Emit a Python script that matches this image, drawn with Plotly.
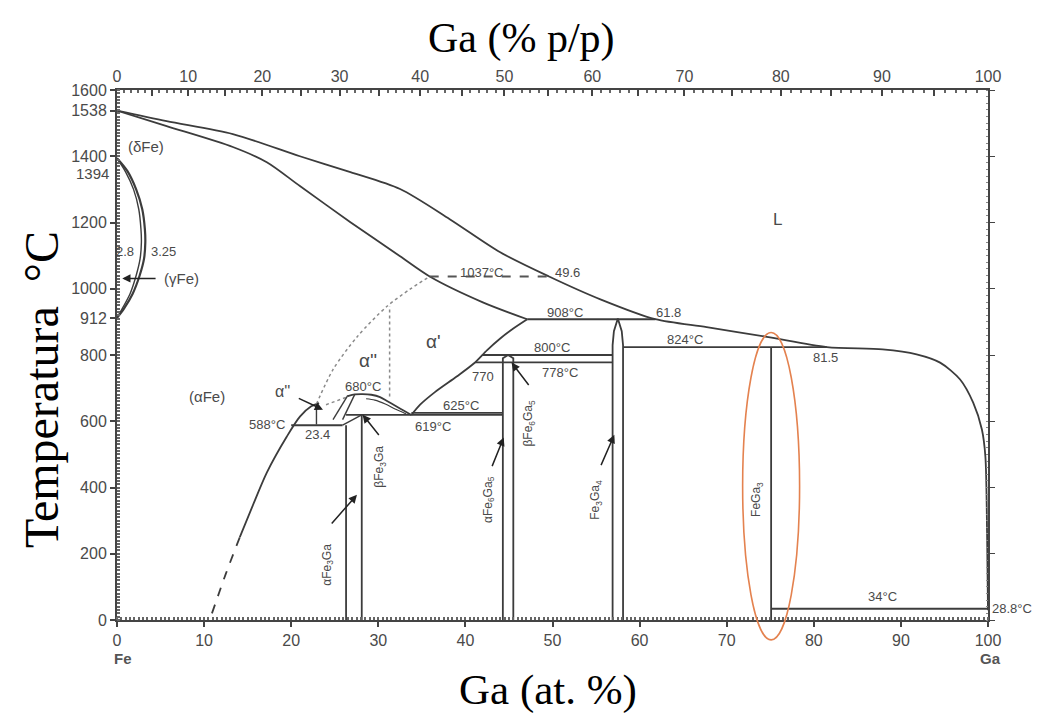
import plotly.graph_objects as go

# ---------------- data (Ga at.% , T in °C) ----------------
liq_x = [0, 5.7, 13.3, 21.0, 26.8, 32.5, 38.2, 44.0, 49.6, 55.5, 61.8, 67.7, 74.6, 81.5, 87.9, 91.8, 94.5, 96.8, 98.3, 99.3, 99.7, 99.9, 100]
liq_T = [1538, 1506, 1467, 1400, 1352, 1301, 1210, 1110, 1037, 968, 908, 884, 855, 824, 817, 802, 777, 726, 656, 575, 493, 250, 29.8]

sol_x = [0, 5.7, 13.3, 17.2, 21.0, 26.8, 32.5, 35.9, 42.0, 47.1]
sol_T = [1538, 1491, 1428, 1382, 1310, 1201, 1098, 1037, 959, 908]

ap_x = [47.1, 45.5, 44.0, 42.5, 41.0, 39.0, 36.5, 34.8, 33.8]
ap_T = [908, 880, 850, 815, 775, 735, 688, 650, 619]

gam_out_x = [0, 1.2, 2.2, 2.9, 3.2, 3.25, 3.1, 2.6, 1.8, 0.8, 0]
gam_out_T = [1394, 1355, 1300, 1240, 1180, 1140, 1090, 1040, 985, 940, 912]
gam_in_x = [0, 1.0, 1.9, 2.5, 2.75, 2.8, 2.65, 2.2, 1.5, 0.6, 0]
gam_in_T = [1394, 1352, 1300, 1240, 1180, 1140, 1090, 1040, 985, 940, 912]

afe_dash_x = [10.9, 12.5, 14.1]
afe_dash_T = [20, 140, 250]
afe_x = [14.1, 15.5, 17.2, 19.5, 21.0, 22.3, 23.2]
afe_T = [250, 340, 445, 554, 614, 645, 655]

ord_x = [22.9, 24.8, 27.6, 31.0, 33.6, 35.9]
ord_T = [652, 756, 856, 947, 998, 1037]
ord2_x = [24.0, 26.3]
ord2_T = [650, 672]
vdot_x = [31.3, 31.3]
vdot_T = [675, 947]

dome_x = [26.5, 27.3, 28.2, 29.2, 30.2, 31.0, 32.0, 33.0, 33.8]
dome_T = [676, 681, 682, 680, 673, 661, 646, 631, 619]
dome2_x = [28.6, 29.6, 30.8, 32.0, 33.2]
dome2_T = [668, 664, 652, 636, 622]
par1_x = [24.8, 26.5]
par1_T = [605, 678]
par2_x = [25.9, 27.3]
par2_T = [605, 681]
a2_x = [22.9, 22.9]
a2_T = [590, 652]
step_x = [25.9, 28.1]
step_T = [588, 619]

# isotherms
iso_T = [1037, 908, 824, 800, 778, 625, 619, 588, 34]
iso_x0 = [35.9, 47.1, 58.1, 41.9, 41.1, 33.8, 26.3, 20.0, 75.1]
iso_x1 = [49.6, 61.8, 81.5, 56.9, 56.9, 44.3, 44.3, 25.9, 100]
iso_dash = ['dash', 'solid', 'solid', 'solid', 'solid', 'solid', 'solid', 'solid', 'solid']

# compounds
fe3ga_a_x = [26.3, 26.3]
fe3ga_a_T = [0, 588]
fe3ga_b_x = [28.1, 28.1]
fe3ga_b_T = [0, 619]
fe6ga5_x = [44.3, 44.3, 44.9, 45.5, 45.5]
fe6ga5_T = [0, 790, 800, 790, 0]
fe3ga4_x = [56.9, 56.9, 57.05, 57.5, 57.95, 58.1, 58.1]
fe3ga4_T = [0, 830, 872, 910, 872, 830, 0]
fega3_x = [75.1, 75.1]
fega3_T = [0, 824]

# highlight ellipse around FeGa3 (centre x, half-width, centre T, half-height)
ell_x, ell_rx, ell_T, ell_rT = 75.1, 3.27, 404, 464

# labels: text, x, T, size, angle
labels = [
    ("(δFe)", 3.3, 1428, 15, 0),
    ("2.8", 0.9, 1113, 13, 0),
    ("3.25", 5.3, 1113, 13, 0),
    ("(γFe)", 7.4, 1031, 15, 0),
    ("(αFe)", 10.3, 675, 15, 0),
    ("α''", 19.0, 690, 16, 0),
    ("680°C", 28.2, 706, 13, 0),
    ("α''", 28.8, 782, 19, 0),
    ("α'", 36.3, 842, 19, 0),
    ("588°C", 17.2, 590, 13, 0),
    ("23.4", 23.0, 560, 13, 0),
    ("619°C", 36.3, 584, 13, 0),
    ("625°C", 39.5, 648, 13, 0),
    ("770", 42.0, 735, 13, 0),
    ("800°C", 49.9, 822, 13, 0),
    ("778°C", 50.9, 747, 13, 0),
    ("908°C", 51.4, 929, 13, 0),
    ("61.8", 63.3, 929, 13, 0),
    ("824°C", 65.2, 847, 13, 0),
    ("81.5", 81.3, 792, 13, 0),
    ("1037°C", 41.9, 1050, 13, 0),
    ("49.6", 51.7, 1050, 13, 0),
    ("L", 75.8, 1210, 17, 0),
    ("34°C", 87.9, 70, 13, 0),
    ("αFe<sub>3</sub>Ga", 24.2, 166, 12, -90),
    ("βFe<sub>3</sub>Ga", 30.2, 463, 12, -90),
    ("αFe<sub>6</sub>Ga<sub>5</sub>", 42.7, 365, 12, -90),
    ("βFe<sub>6</sub>Ga<sub>5</sub>", 47.3, 596, 12, -90),
    ("Fe<sub>3</sub>Ga<sub>4</sub>", 55.0, 363, 12, -90),
    ("FeGa<sub>3</sub>", 73.5, 363, 12, -90),
]

# arrows: tail (x, T) -> head (x, T)
arrows = [
    (4.6, 1031, 0.6, 1031),
    (20.7, 671, 23.65, 635),
    (24.5, 287, 27.55, 378),
    (30.2, 554, 28.2, 620),
    (43.0, 460, 44.4, 551),
    (47.4, 705, 45.3, 777),
    (55.5, 463, 57.1, 559),
]

# axes ticks
y_ticks = [0, 200, 400, 600, 800, 912, 1000, 1200, 1400, 1538, 1600]
x_ticks = [0, 10, 20, 30, 40, 50, 60, 70, 80, 90, 100]
wt_ticks = [0, 10, 20, 30, 40, 50, 60, 70, 80, 90, 100]

M_GA, M_FE = 69.723, 55.845
Y_MAX = 1600


def wt_to_at(w):
    if w >= 100:
        return 100.0
    a = w / M_GA
    b = (100 - w) / M_FE
    return 100 * a / (a + b)


LINE = "#3c3c3c"
DOT = "#8a8a8a"
TXT = "#4a4a4a"
fig = go.Figure()


def add_line(x, y, dash="solid", color=LINE, width=1.8, shape="linear"):
    fig.add_trace(go.Scatter(x=x, y=y, mode="lines", hoverinfo="skip", showlegend=False,
                             line=dict(color=color, width=width, dash=dash, shape=shape,
                                       smoothing=0.8 if shape == "spline" else None)))


add_line(liq_x, liq_T, shape="spline")
add_line(sol_x, sol_T, shape="spline")
add_line(ap_x, ap_T, shape="spline")
add_line(gam_out_x, gam_out_T, width=2.2, shape="spline")
add_line(gam_in_x, gam_in_T, width=1.4, shape="spline")
add_line(afe_dash_x, afe_dash_T, dash="dash", shape="spline")
add_line(afe_x, afe_T, shape="spline")
add_line(ord_x, ord_T, dash="dot", color=DOT, width=1.5, shape="spline")
add_line(ord2_x, ord2_T, dash="dot", color=DOT, width=1.5)
add_line(vdot_x, vdot_T, dash="dot", color=DOT, width=1.5)
add_line(dome_x, dome_T, shape="spline")
add_line(dome2_x, dome2_T, width=1.2, shape="spline")
add_line(par1_x, par1_T, width=1.4)
add_line(par2_x, par2_T, width=1.4)
add_line(a2_x, a2_T, width=1.4)
add_line(step_x, step_T, width=1.4)
for T, x0, x1, d in zip(iso_T, iso_x0, iso_x1, iso_dash):
    add_line([x0, x1], [T, T], dash=d, color=LINE if d == "solid" else "#555", width=1.8)
for xs, ts in [(fe3ga_a_x, fe3ga_a_T), (fe3ga_b_x, fe3ga_b_T), (fe6ga5_x, fe6ga5_T),
               (fe3ga4_x, fe3ga4_T), (fega3_x, fega3_T)]:
    add_line(xs, ts, width=1.8)

# top axis helper trace
fig.add_trace(go.Scatter(x=[0, 100], y=[0, 0], xaxis="x2", yaxis="y2", mode="markers",
                         marker=dict(opacity=0), hoverinfo="skip", showlegend=False))

ann = []
for t, x, T, s, ang in labels:
    ann.append(dict(x=x, y=T, xref="x", yref="y", text=t, showarrow=False, textangle=ang,
                    font=dict(family="Liberation Sans, Arial", size=s, color=TXT)))
for tx, tT, hx, hT in arrows:
    ann.append(dict(x=hx, y=hT, ax=tx, ay=tT, xref="x", yref="y", axref="x", ayref="y",
                    text="", showarrow=True, arrowhead=2, arrowsize=1.1, arrowwidth=1.5,
                    arrowcolor="#222"))
ann.append(dict(x=0, y=1394, xref="paper", yref="y", text="1394", showarrow=False,
                xanchor="right", xshift=-6, yshift=-15,
                font=dict(family="Liberation Sans, Arial", size=15, color=TXT)))
ann.append(dict(x=100, y=34, xref="x", yref="y", text="28.8°C", showarrow=False,
                xanchor="left", xshift=2,
                font=dict(family="Liberation Sans, Arial", size=13, color=TXT)))
ann.append(dict(x=0, y=-0.072, xref="x", yref="paper", text="<b>Fe</b>", showarrow=False,
                xshift=6, yanchor="middle",
                font=dict(family="Liberation Sans, Arial", size=15, color="#555")))
ann.append(dict(x=100, y=-0.072, xref="x", yref="paper", text="<b>Ga</b>", showarrow=False,
                xshift=2, yanchor="middle",
                font=dict(family="Liberation Sans, Arial", size=15, color="#555")))
ann.append(dict(x=0.464, y=1.098, xref="paper", yref="paper", text="Ga (% p/p)", showarrow=False,
                xanchor="center", yanchor="middle",
                font=dict(family="Liberation Serif, Times New Roman", size=42, color="#000")))
ann.append(dict(x=0.495, y=-0.132, xref="paper", yref="paper", text="Ga (at. %)", showarrow=False,
                xanchor="center", yanchor="middle",
                font=dict(family="Liberation Serif, Times New Roman", size=43, color="#000")))
ann.append(dict(x=-0.086, y=0.434, xref="paper", yref="paper", text="Temperatura\u00a0\u00a0°C",
                showarrow=False, textangle=-90, xanchor="center", yanchor="middle",
                font=dict(family="Liberation Serif, Times New Roman", size=48, color="#000")))

wt_major = [wt_to_at(w) for w in range(0, 101, 5)]
wt_major_txt = [str(w) if w % 10 == 0 else "" for w in range(0, 101, 5)]
wt_minor = [wt_to_at(w) for w in range(0, 101) if w % 5 != 0]

tickfont = dict(family="Liberation Sans, Arial", size=16, color=TXT)
fig.update_layout(
    width=1045, height=719, autosize=False,
    margin=dict(l=117, r=57, t=90, b=99),
    paper_bgcolor="white", plot_bgcolor="white",
    annotations=ann,
    xaxis=dict(range=[0, 100], tickvals=x_ticks, ticktext=[str(v) for v in x_ticks],
               showgrid=False, zeroline=False, showline=True, linecolor="#444", linewidth=2,
               ticks="outside", ticklen=5, tickcolor="#444", tickwidth=1.5, tickfont=tickfont,
               minor=dict(dtick=0.5, ticks="inside", ticklen=3, tickcolor="#666", showgrid=False)),
    xaxis2=dict(range=[0, 100], overlaying="x", side="top", tickmode="array",
                tickvals=wt_major, ticktext=wt_major_txt, showgrid=False, zeroline=False,
                showline=True, linecolor="#444", linewidth=2, ticks="inside", ticklen=6,
                tickcolor="#444", tickwidth=1.5, tickfont=tickfont,
                minor=dict(tickmode="array", tickvals=wt_minor, ticks="inside", ticklen=3,
                           tickcolor="#666", showgrid=False)),
    yaxis=dict(range=[0, Y_MAX], tickvals=y_ticks, ticktext=[str(v) for v in y_ticks],
               showgrid=False, zeroline=False, showline=True, linecolor="#444", linewidth=2,
               ticks="outside", ticklen=5, tickcolor="#444", tickwidth=1.5, tickfont=tickfont,
               minor=dict(dtick=10, ticks="inside", ticklen=3, tickcolor="#666", showgrid=False)),
    yaxis2=dict(range=[0, Y_MAX], overlaying="y", side="right", showticklabels=False,
                tickvals=[0, 200, 400, 600, 800, 1000, 1200, 1400, 1600],
                showgrid=False, zeroline=False, showline=True, linecolor="#444", linewidth=2,
                ticks="outside", ticklen=5, tickcolor="#444",
                minor=dict(dtick=20, ticks="inside", ticklen=2, tickcolor="#888", showgrid=False)),
    shapes=[dict(type="circle", xref="x", yref="paper", x0=ell_x - ell_rx, x1=ell_x + ell_rx,
                 y0=(ell_T - ell_rT) / Y_MAX, y1=(ell_T + ell_rT) / Y_MAX,
                 line=dict(color="#E4824F", width=1.6))],
)

fig.write_html("out.html")
